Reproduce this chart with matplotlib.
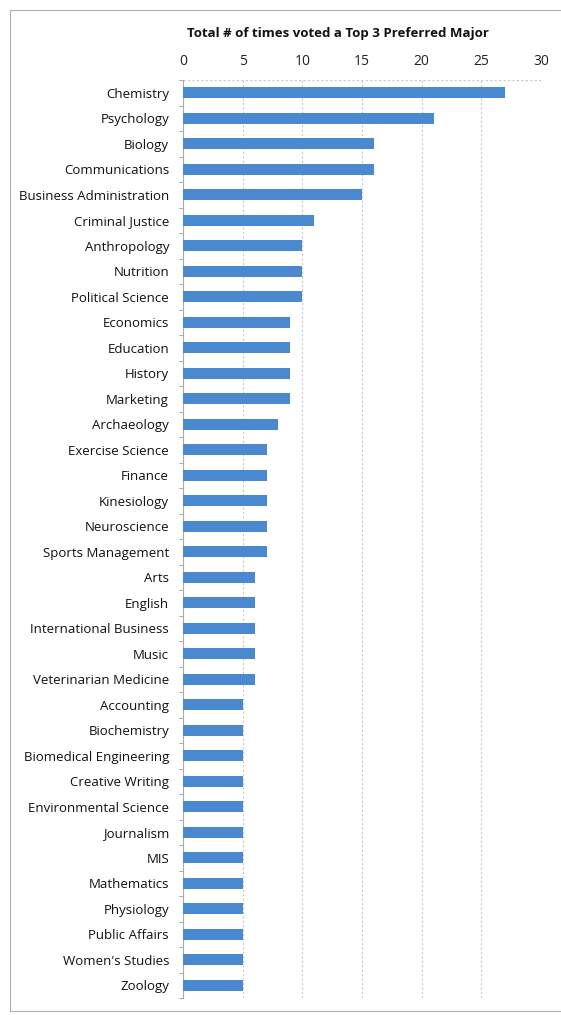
import matplotlib
matplotlib.use("Agg")
import matplotlib.pyplot as plt
from matplotlib.patches import Rectangle

categories = ["Chemistry", "Psychology", "Biology", "Communications", "Business Administration",
              "Criminal Justice", "Anthropology", "Nutrition", "Political Science", "Economics",
              "Education", "History", "Marketing", "Archaeology", "Exercise Science", "Finance",
              "Kinesiology", "Neuroscience", "Sports Management", "Arts", "English",
              "International Business", "Music", "Veterinarian Medicine", "Accounting",
              "Biochemistry", "Biomedical Engineering", "Creative Writing", "Environmental Science",
              "Journalism", "MIS", "Mathematics", "Physiology", "Public Affairs", "Women's Studies",
              "Zoology"]
values = [27, 21, 16, 16, 15, 11, 10, 10, 10, 9, 9, 9, 9, 8, 7, 7, 7, 7, 7,
          6, 6, 6, 6, 6, 5, 5, 5, 5, 5, 5, 5, 5, 5, 5, 5, 5]
xticks = [0, 5, 10, 15, 20, 25, 30]
title = "Total # of times voted a Top 3 Preferred Major"

plt.rcParams['font.family'] = ['Open Sans', 'DejaVu Sans']
W, H = 561, 1015
fig = plt.figure(figsize=(W/100, H/100), dpi=100)
fig.patches.append(Rectangle((10/W, 0.004), 1.2, 1 - 0.004 - 10/H, transform=fig.transFigure,
                             fill=False, edgecolor='#b0b0b0', linewidth=0.8))
ax = fig.add_axes([183/W, 1 - 998/H, (541-183)/W, (998-80)/H])
y = list(range(len(categories)))
ax.barh(y, values, height=0.42, color='#4a88cf', zorder=3)
ax.set_ylim(len(categories) - 0.5, -0.5)
ax.set_xlim(0, 30)
ax.set_xticks(xticks)
ax.xaxis.tick_top()
ax.tick_params(axis='x', length=0, labelsize=10, pad=8, colors='#222222')
ax.set_yticks(y)
ax.set_yticklabels(categories, fontsize=9.5, color='#111111')
ax.tick_params(axis='y', length=0, pad=10)
ax.set_yticks([i + 0.5 for i in range(-1, len(categories))], minor=True)
ax.tick_params(axis='y', which='minor', length=3, color='#999999', direction='out')
ax.grid(axis='x', color='#c8c8c8', linestyle=(0, (2, 2)), linewidth=0.8, zorder=0)
for s in ['top', 'right', 'bottom']:
    ax.spines[s].set_visible(False)
ax.spines['left'].set_color('#aaaaaa')
ax.spines['left'].set_linewidth(0.8)
ax.axhline(-0.5, color='#c8c8c8', linestyle=(0, (2, 2)), linewidth=0.8, zorder=0)
fig.text(338/W, 1 - 33/H, title, ha='center', va='center', fontsize=9.5, fontweight='bold', color='#111111')
fig.savefig("out.png", dpi=100)
